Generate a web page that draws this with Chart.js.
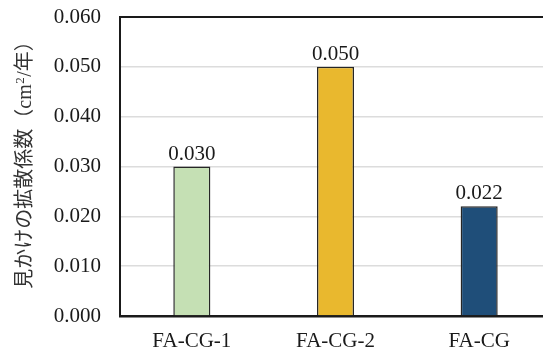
<!DOCTYPE html>
<html>
<head>
<meta charset="utf-8">
<script src="https://cdn.jsdelivr.net/npm/chart.js@4/dist/chart.umd.min.js"></script>
<style>
  html, body { margin: 0; padding: 0; background: #fff; overflow: hidden; }
  #wrap { width: 551px; height: 349px; }
</style>
</head>
<body>
<div id="wrap"><canvas id="c" width="551" height="349"></canvas></div>
<script>
// Specimens and their apparent diffusion coefficients (cm²/year)
const categories = ['FA-CG-1', 'FA-CG-2', 'FA-CG'];
const coefficients = [0.030, 0.050, 0.022];
const barColors = ['#c5e0b4', '#e9b82e', '#1f4e79'];
const yTicks = [0.000, 0.010, 0.020, 0.030, 0.040, 0.050, 0.060];
// Axis title split so the exponent can be set as a superscript
const yTitleParts = ['見かけの拡散係数（cm', '2', '/年）'];

const serif = '"Liberation Serif", "Times New Roman", "Noto Sans CJK JP", serif';

// Writes each bar's value just above its top
const valueLabels = {
  id: 'valueLabels',
  afterDatasetsDraw(chart) {
    const { ctx } = chart;
    const meta = chart.getDatasetMeta(0);
    ctx.save();
    ctx.font = '21px ' + serif;
    ctx.fillStyle = '#1a1a1a';
    ctx.textAlign = 'center';
    ctx.textBaseline = 'bottom';
    meta.data.forEach((bar, i) => {
      ctx.fillText(coefficients[i].toFixed(3), bar.x, bar.y - 2);
    });
    ctx.restore();
  }
};

// Closes the frame along the top of the plot area
const topEdge = {
  id: 'topEdge',
  afterDraw(chart) {
    const { ctx, chartArea } = chart;
    ctx.save();
    ctx.strokeStyle = '#1a1a1a';
    ctx.lineWidth = 2;
    ctx.beginPath();
    ctx.moveTo(chartArea.left - 1, chartArea.top);
    ctx.lineTo(chartArea.right, chartArea.top);
    ctx.stroke();
    ctx.restore();
  }
};

// Vertical y-axis title with a raised exponent
const yAxisTitle = {
  id: 'yAxisTitle',
  afterDraw(chart) {
    const { ctx } = chart;
    const main = '20px ' + serif;
    const sup = '13px ' + serif;
    ctx.save();
    ctx.font = main;
    const w0 = ctx.measureText(yTitleParts[0]).width;
    const w2 = ctx.measureText(yTitleParts[2]).width;
    ctx.font = sup;
    const w1 = ctx.measureText(yTitleParts[1]).width + 1;
    const total = w0 + w1 + w2;
    ctx.translate(31, 160);
    ctx.rotate(-Math.PI / 2);
    ctx.fillStyle = '#333';
    ctx.textBaseline = 'alphabetic';
    ctx.textAlign = 'left';
    let x = -total / 2;
    ctx.font = main;
    ctx.fillText(yTitleParts[0], x, 0);
    x += w0;
    ctx.font = sup;
    ctx.fillText(yTitleParts[1], x + 0.5, -7);
    x += w1;
    ctx.font = main;
    ctx.fillText(yTitleParts[2], x, 0);
    ctx.restore();
  }
};

new Chart(document.getElementById('c'), {
  type: 'bar',
  data: {
    labels: categories,
    datasets: [{
      data: coefficients,
      backgroundColor: barColors,
      borderColor: '#262626',
      borderWidth: 1.5,
      categoryPercentage: 1,
      barPercentage: 0.258
    }]
  },
  options: {
    responsive: false,
    animation: false,
    layout: { padding: { top: 17, left: 0, right: 0, bottom: 0 } },
    plugins: { legend: { display: false }, tooltip: { enabled: false } },
    scales: {
      x: {
        grid: { display: false },
        border: { color: '#1a1a1a', width: 2.5 },
        ticks: { color: '#1a1a1a', font: { family: serif, size: 21 }, padding: 5 },
        afterFit(scale) { scale.height = 33; }
      },
      y: {
        min: 0,
        max: 0.06,
        afterBuildTicks(scale) { scale.ticks = yTicks.map(v => ({ value: v })); },
        grid: { color: '#dcdcdc', lineWidth: 1.5, drawTicks: false },
        border: { color: '#1a1a1a', width: 2 },
        ticks: {
          color: '#1a1a1a',
          font: { family: serif, size: 21 },
          padding: 19,
          callback: v => Number(v).toFixed(3)
        },
        afterFit(scale) {
          scale.width = 120;
          scale.paddingTop = 0;
          scale.paddingBottom = 0;
        }
      }
    }
  },
  plugins: [valueLabels, topEdge, yAxisTitle]
});
</script>
</body>
</html>
